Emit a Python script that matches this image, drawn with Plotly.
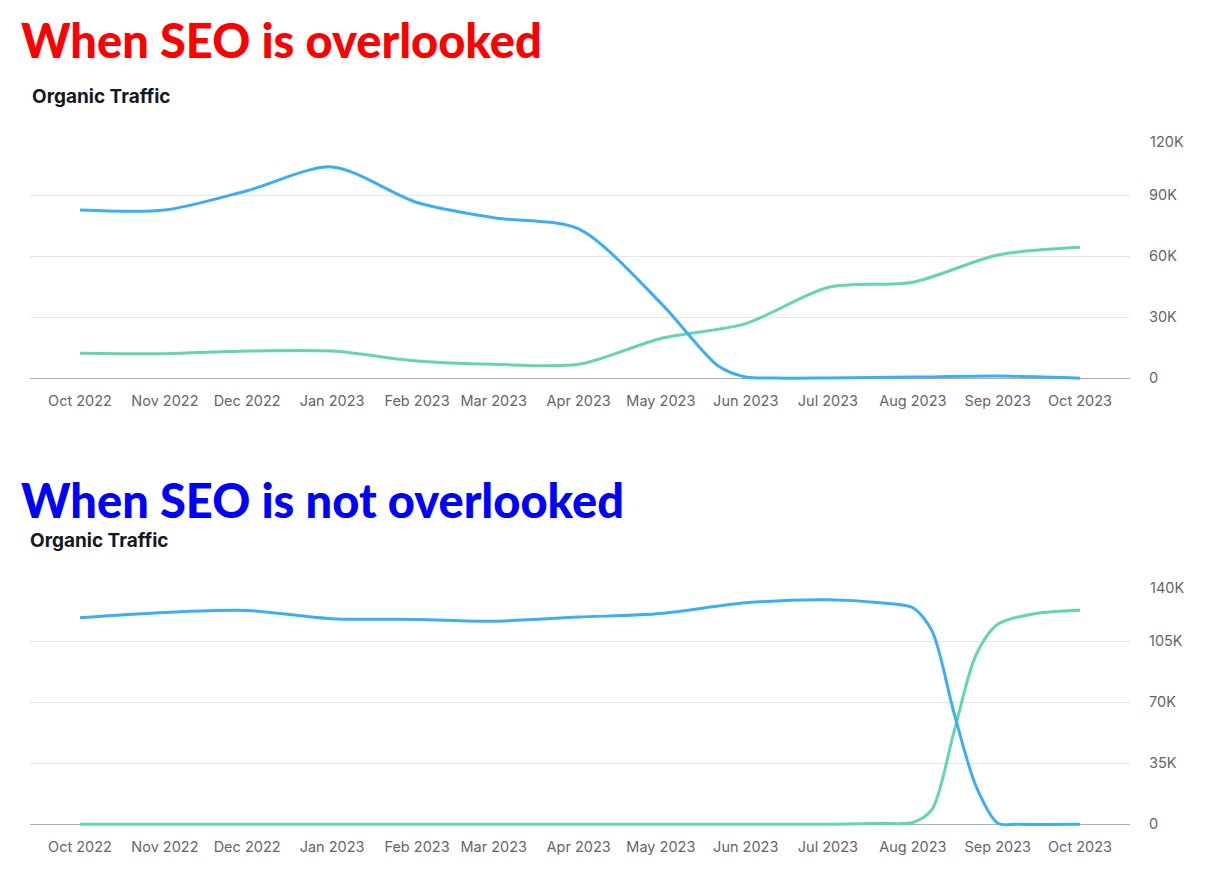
import plotly.graph_objects as go

# ---------------- data (values in thousands) ----------------
month_ticks = ["2022-10-01", "2022-11-01", "2022-12-01", "2023-01-01", "2023-02-01",
               "2023-03-01", "2023-04-01", "2023-05-01", "2023-06-01", "2023-07-01",
               "2023-08-01", "2023-09-01", "2023-10-01"]
month_labels = ["Oct 2022", "Nov 2022", "Dec 2022", "Jan 2023", "Feb 2023", "Mar 2023",
                "Apr 2023", "May 2023", "Jun 2023", "Jul 2023", "Aug 2023", "Sep 2023",
                "Oct 2023"]

# chart 1: "When SEO is overlooked"
top_blue_dates = ["2022-10-01", "2022-11-01", "2022-12-01", "2023-01-01", "2023-02-01",
                  "2023-03-01", "2023-04-01", "2023-05-01", "2023-05-22", "2023-06-01",
                  "2023-06-12", "2023-07-01", "2023-08-01", "2023-09-01", "2023-10-01"]
top_blue_values = [82.8, 82.8, 92.3, 104.0, 86.5, 79.0, 73.5, 37.0, 6.0, 0.6,
                   0.1, 0.2, 0.6, 1.1, 0.0]

top_green_dates = month_ticks
top_green_values = [12.3, 12.1, 13.4, 13.4, 8.5, 6.9, 6.9, 19.6, 26.9, 44.7, 47.3, 60.7, 64.5]

top_y_ticks = [0, 30, 60, 90, 120]
top_y_labels = ["0", "30K", "60K", "90K", "120K"]

# chart 2: "When SEO is not overlooked"
bot_blue_dates = ["2022-10-01", "2022-11-01", "2022-12-01", "2023-01-01", "2023-02-01",
                  "2023-03-01", "2023-04-01", "2023-05-01", "2023-06-01", "2023-07-01",
                  "2023-07-20", "2023-08-01", "2023-08-08", "2023-08-16", "2023-08-24",
                  "2023-09-01", "2023-09-08", "2023-10-01"]
bot_blue_values = [118.6, 121.6, 122.7, 118.0, 117.6, 116.5, 118.9, 121.0, 127.1, 128.8,
                   127.1, 124.3, 111.0, 64.0, 22.0, 0.6, 0.0, 0.0]

bot_green_dates = ["2022-10-01", "2022-11-01", "2022-12-01", "2023-01-01", "2023-02-01",
                   "2023-03-01", "2023-04-01", "2023-05-01", "2023-06-01", "2023-07-01",
                   "2023-07-20", "2023-08-01", "2023-08-08", "2023-08-16", "2023-08-24",
                   "2023-09-01", "2023-09-15", "2023-10-01"]
bot_green_values = [0, 0, 0, 0, 0, 0, 0, 0, 0, 0,
                    0.5, 1.0, 8.5, 53.0, 97.0, 114.8, 121.0, 122.9]

bot_y_ticks = [0, 35, 70, 105, 140]
bot_y_labels = ["0", "35K", "70K", "105K", "140K"]

# ---------------- style ----------------
# the page body keeps the browser's default 8px margin, so the figure is
# sized to fit inside the 1220x888 window and positions are measured from (8, 8)
OFF = 8
W, H = 1220 - 2 * OFF, 888 - 2 * OFF
BLUE = "#3DAEF4"
GREEN = "#64D6A9"
GRID = "#e6e6e6"
BASE = "#b0b0b0"
TICK_FONT = dict(family="Inter, Noto Sans, sans-serif", size=14.5, color="#666666")
X_RANGE = ["2022-09-12 18:00", "2023-10-19 06:00"]


def px_x(x):
    return (x - OFF) / W


def px_y(y):
    return 1 - (y - OFF) / H


def layout_y(top_px, base_px, ymin, ymax):
    per = (base_px - top_px) / ymax
    bottom = base_px - ymin * per
    return [px_y(bottom), px_y(top_px)]


fig = go.Figure()
line_kw = dict(shape="spline", smoothing=0.8, width=3)

fig.add_trace(go.Scatter(x=top_green_dates, y=top_green_values, mode="lines",
                         line=dict(color=GREEN, **line_kw), xaxis="x", yaxis="y",
                         hoverinfo="skip"))
fig.add_trace(go.Scatter(x=top_blue_dates, y=top_blue_values, mode="lines",
                         line=dict(color=BLUE, **line_kw), xaxis="x", yaxis="y",
                         hoverinfo="skip"))
fig.add_trace(go.Scatter(x=bot_green_dates, y=bot_green_values, mode="lines",
                         line=dict(color=GREEN, **line_kw), xaxis="x2", yaxis="y2",
                         hoverinfo="skip"))
fig.add_trace(go.Scatter(x=bot_blue_dates, y=bot_blue_values, mode="lines",
                         line=dict(color=BLUE, **line_kw), xaxis="x2", yaxis="y2",
                         hoverinfo="skip"))

xdom = [px_x(30), px_x(1130)]
xaxis_common = dict(domain=xdom, type="date", range=X_RANGE, tickvals=month_ticks,
                    ticktext=month_labels, showgrid=False, zeroline=False, showline=False,
                    ticks="", tickangle=0, tickfont=TICK_FONT, ticklabelstandoff=8,
                    fixedrange=True)
yaxis_common = dict(side="right", showgrid=True, gridcolor=GRID, gridwidth=1,
                    zeroline=True, zerolinecolor=BASE, zerolinewidth=1, showline=False,
                    ticks="", tickfont=TICK_FONT, ticklabelstandoff=18, fixedrange=True)

# the topmost tick label sits a little below its gridline in the original,
# so it is written as an annotation and left empty on the axis
top_axis_text = top_y_labels[:-1] + [""]
bot_axis_text = bot_y_labels[:-1] + [""]

fig.update_layout(
    width=W, height=H,
    margin=dict(l=0, r=0, t=0, b=0),
    paper_bgcolor="white", plot_bgcolor="white",
    showlegend=False,
    xaxis=dict(anchor="y", **xaxis_common),
    yaxis=dict(anchor="x", domain=layout_y(135, 380, -2, 120), range=[-2, 120],
               tickvals=top_y_ticks, ticktext=top_axis_text, **yaxis_common),
    xaxis2=dict(anchor="y2", **xaxis_common),
    yaxis2=dict(anchor="x2", domain=layout_y(583, 828, -2.5, 140), range=[-2.5, 140],
                tickvals=bot_y_ticks, ticktext=bot_axis_text, **yaxis_common),
)

fig.add_annotation(xref="paper", yref="y", x=px_x(1148), y=top_y_ticks[-1],
                   text=top_y_labels[-1], xanchor="left", yanchor="middle", yshift=-7,
                   showarrow=False, font=TICK_FONT)
fig.add_annotation(xref="paper", yref="y2", x=px_x(1148), y=bot_y_ticks[-1],
                   text=bot_y_labels[-1], xanchor="left", yanchor="middle", yshift=-7,
                   showarrow=False, font=TICK_FONT)

HEAD_FONT = "Lato, Inter, Noto Sans, sans-serif"
SUB_FONT = "Inter, Noto Sans, sans-serif"
annots = [
    dict(text="When SEO is overlooked", x=px_x(19), y=px_y(40),
         font=dict(family=HEAD_FONT, size=47, color="#ff0000", weight=900)),
    dict(text="Organic Traffic", x=px_x(30), y=px_y(97),
         font=dict(family=SUB_FONT, size=19, color="#16181d", weight=700)),
    dict(text="When SEO is not overlooked", x=px_x(19), y=px_y(502),
         font=dict(family=HEAD_FONT, size=47, color="#0000ff", weight=900)),
    dict(text="Organic Traffic", x=px_x(28), y=px_y(543),
         font=dict(family=SUB_FONT, size=19, color="#16181d", weight=700)),
]
for a in annots:
    fig.add_annotation(xref="paper", yref="paper", xanchor="left", yanchor="middle",
                       showarrow=False, **a)

fig.write_html("out.html")
